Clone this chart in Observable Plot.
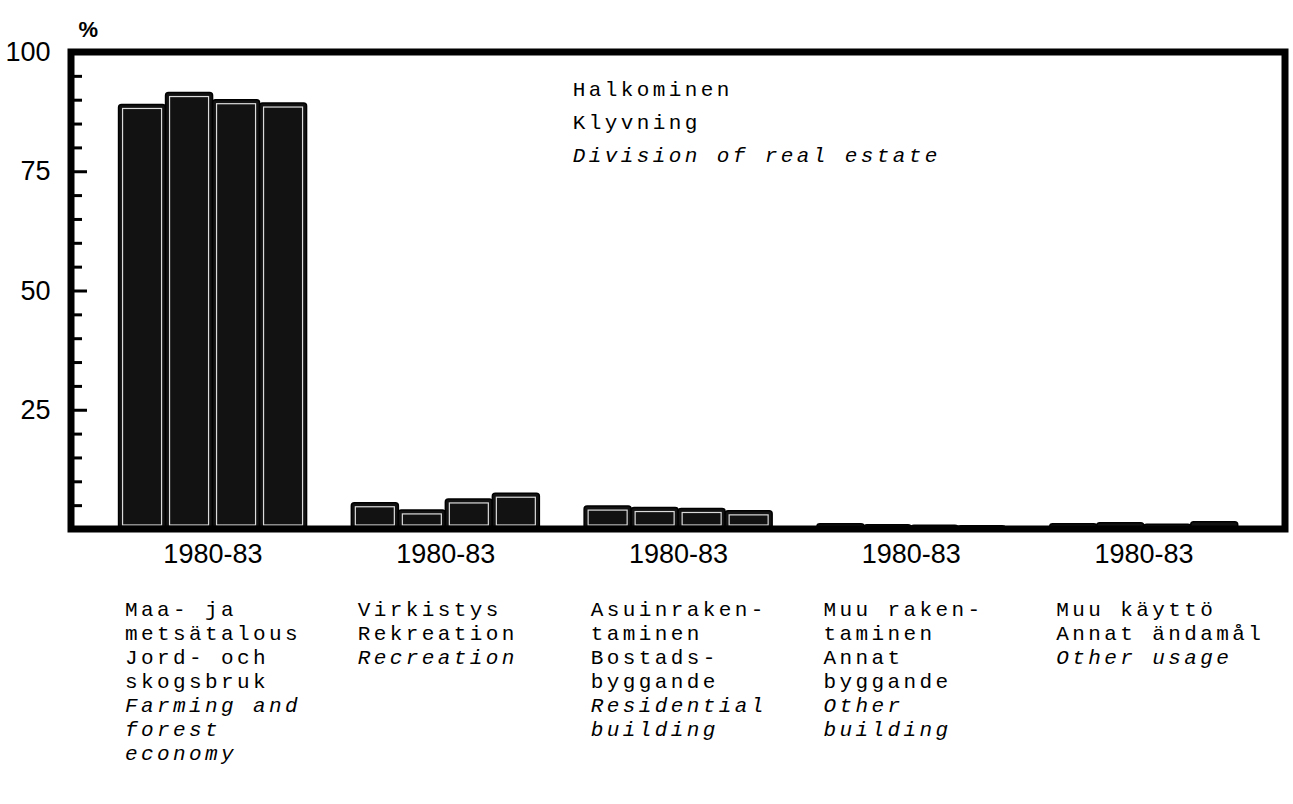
<!DOCTYPE html>
<html>
<head>
<meta charset="utf-8">
<script src="https://cdn.jsdelivr.net/npm/d3@7"></script>
<script src="https://cdn.jsdelivr.net/npm/@observablehq/plot@0.6"></script>
<style>
  body { margin: 0; background: #fff; }
  #chart svg { display: block; }
  #chart g[font-family*="Liberation Mono"] { letter-spacing: 3.4px; }
</style>
</head>
<body>
<div id="chart"></div>
<script>
// ---- data ----
const groups = ["Maa- ja metsätalous", "Virkistys", "Asuinrakentaminen", "Muu rakentaminen", "Muu käyttö"];
const years = ["1980", "1981", "1982", "1983"];
const periodLabel = "1980-83";
const farming = [89.0, 91.5, 90.0, 89.3];
const recreation = [5.5, 4.0, 6.3, 7.5];
const residential = [4.8, 4.5, 4.3, 3.8];
const otherBuilding = [1.1, 0.9, 0.8, 0.7];
const otherUsage = [1.1, 1.3, 1.0, 1.5];
const labelsNordic = [
  ["Maa- ja", "metsätalous", "Jord- och", "skogsbruk"],
  ["Virkistys", "Rekreation"],
  ["Asuinraken-", "taminen", "Bostads-", "byggande"],
  ["Muu raken-", "taminen", "Annat", "byggande"],
  ["Muu käyttö", "Annat ändamål"]
];
const labelsEnglish = [
  ["Farming and", "forest", "economy"],
  ["Recreation"],
  ["Residential", "building"],
  ["Other", "building"],
  ["Other usage"]
];
const titleNordic = ["Halkominen", "Klyvning"];
const titleEnglish = "Division of real estate";
const yMinorTicks = [5, 10, 15, 20, 30, 35, 40, 45, 55, 60, 65, 70, 80, 85, 90, 95];
const yMajorTicks = [25, 50, 75];
const yLabelTicks = [25, 50, 75, 100];
const yUnit = "%";

// ---- table ----
const series = [farming, recreation, residential, otherBuilding, otherUsage];
const rows = groups.flatMap((g, i) => years.map((yr, j) => ({group: g, year: yr, value: series[i][j]})));

// ---- layout ----
const W = 1293, H = 804, mL = 71, mR = 8, mT = 52, mB = 275;
const padIn = 0.185, padOut = 0.2;
const step = (W - mL - mR) / (groups.length - padIn + 2 * padOut);
const facetOffset = padOut * step;   // distance from plot-area left to first facet
const mono = "'Liberation Mono', 'DejaVu Sans Mono', monospace";
const sans = "'Liberation Sans', Arial, sans-serif";
const fs = 21, lh = 24, titleLh = 33;

const textMarks = [];
groups.forEach((g, i) => {
  textMarks.push(Plot.text([labelsNordic[i].join("\n")], {
    fx: () => g, frameAnchor: "bottom-left", textAnchor: "start", lineAnchor: "top",
    lineHeight: lh / fs, dx: 7, dy: 69, fontFamily: mono, fontSize: fs, fill: "black"
  }));
  textMarks.push(Plot.text([labelsEnglish[i].join("\n")], {
    fx: () => g, frameAnchor: "bottom-left", textAnchor: "start", lineAnchor: "top",
    lineHeight: lh / fs, dx: 7, dy: 69 + labelsNordic[i].length * lh,
    fontFamily: mono, fontSize: fs, fontStyle: "italic", fill: "black"
  }));
});

const chart = Plot.plot({
  width: W, height: H,
  marginLeft: mL, marginRight: mR, marginTop: mT, marginBottom: mB,
  style: {background: "white", color: "black", overflow: "visible"},
  fx: {domain: groups, paddingInner: padIn, paddingOuter: padOut, round: false, label: null},
  x: {domain: years, padding: 0, axis: null},
  y: {domain: [0, 100], label: null},
  marks: [
    Plot.barY(rows, {fx: "group", x: "year", y: "value", fill: "#121212", stroke: "#000", strokeWidth: 1.5, rx: 3}),
    Plot.barY(rows.filter(d => d.value > 2), {fx: "group", x: "year", y: "value", inset: 4,
      fill: "none", stroke: "white", strokeWidth: 1.2, strokeOpacity: 0.85}),
    Plot.axisY({ticks: yMinorTicks, tickSize: -11, strokeWidth: 3, dx: -facetOffset, tickFormat: () => "", label: null}),
    Plot.axisY({ticks: yMajorTicks, tickSize: -16, strokeWidth: 3, dx: -facetOffset, tickFormat: () => "", label: null}),
    Plot.axisY({ticks: yLabelTicks, tickSize: 0, tickPadding: 21, dx: -facetOffset, fontSize: 27, fontFamily: sans, label: null}),
    Plot.axisFx({anchor: "bottom", tickSize: 0, tickPadding: 14, tickFormat: () => periodLabel,
      fontSize: 27, fontFamily: sans, label: null}),
    Plot.text([yUnit], {fx: () => groups[0], frameAnchor: "top-left", textAnchor: "start",
      dx: 78 - mL - facetOffset, dy: -31, fontSize: 22, fontWeight: "bold", fontFamily: sans, fill: "black"}),
    Plot.text([titleNordic.join("\n")], {fx: () => groups[2], frameAnchor: "top-left", textAnchor: "start",
      lineAnchor: "top", lineHeight: titleLh / fs, dx: -11, dy: 20, fontFamily: mono, fontSize: fs, fill: "black"}),
    Plot.text([titleEnglish], {fx: () => groups[2], frameAnchor: "top-left", textAnchor: "start",
      lineAnchor: "top", dx: -11, dy: 20 + 2 * titleLh + 9, fontFamily: mono, fontSize: fs, fontStyle: "italic", fill: "black"}),
    ...textMarks
  ]
});

// plot frame drawn with the library's y scale
const ys = chart.scale("y");
d3.select(chart).append("rect")
  .attr("x", mL).attr("y", ys.apply(100))
  .attr("width", W - mL - mR).attr("height", ys.apply(0) - ys.apply(100))
  .attr("fill", "none").attr("stroke", "black").attr("stroke-width", 7);

document.getElementById("chart").appendChild(chart);
</script>
</body>
</html>
